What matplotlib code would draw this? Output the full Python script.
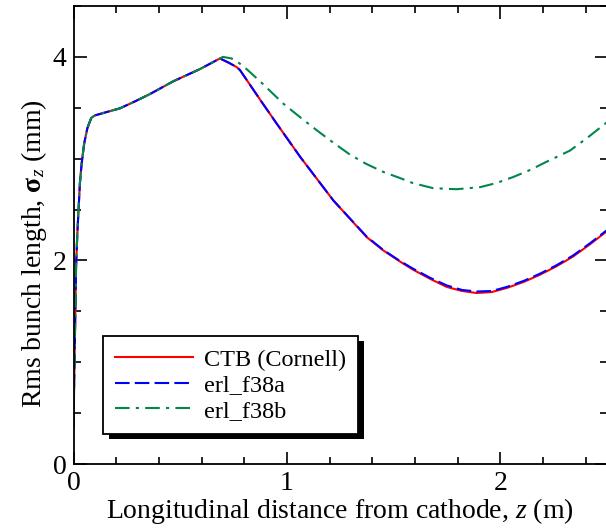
import matplotlib.pyplot as plt
from matplotlib.ticker import MultipleLocator
import matplotlib.patheffects as pe

plt.rcParams['font.family'] = ['Liberation Serif', 'DejaVu Serif']
plt.rcParams['mathtext.fontset'] = 'custom'
plt.rcParams['mathtext.rm'] = 'Liberation Serif'
plt.rcParams['mathtext.it'] = 'Liberation Serif:italic'
plt.rcParams['mathtext.bf'] = 'Liberation Serif:bold'

# z positions (m) and rms bunch length (mm)
z_ctb = [0.0, 0.003, 0.007, 0.012, 0.018, 0.03, 0.038, 0.05, 0.065, 0.083, 0.1, 0.15, 0.218,
         0.29, 0.358, 0.467, 0.592, 0.686, 0.73, 0.764, 0.78, 0.874, 0.95, 1.061, 1.217, 1.373,
         1.45, 1.529, 1.59, 1.67, 1.748, 1.82, 1.889, 1.96, 2.03, 2.11, 2.185, 2.26, 2.341,
         2.42, 2.5]
s_ctb = [0.35, 0.8, 1.28, 1.94, 2.27, 2.76, 2.95, 3.15, 3.30, 3.40, 3.425, 3.455, 3.495,
         3.565, 3.635, 3.76, 3.88, 3.985, 3.94, 3.90, 3.87, 3.58, 3.35, 3.02, 2.59, 2.23,
         2.10, 1.99, 1.91, 1.82, 1.74, 1.70, 1.68, 1.69, 1.73, 1.79, 1.86, 1.94, 2.04,
         2.16, 2.29]

z_f38a = z_ctb
s_f38a = [0.35, 0.8, 1.28, 1.94, 2.27, 2.76, 2.95, 3.15, 3.30, 3.40, 3.425, 3.455, 3.495,
          3.565, 3.635, 3.76, 3.88, 3.985, 3.94, 3.90, 3.87, 3.58, 3.35, 3.02, 2.59, 2.235,
          2.105, 1.995, 1.92, 1.83, 1.755, 1.71, 1.695, 1.70, 1.74, 1.80, 1.87, 1.95, 2.05,
          2.17, 2.30]

z_f38b = [0.0, 0.003, 0.007, 0.012, 0.018, 0.03, 0.038, 0.05, 0.065, 0.083, 0.1, 0.15, 0.218,
          0.29, 0.358, 0.467, 0.592, 0.686, 0.70, 0.74, 0.775, 0.811, 0.874, 0.983, 1.06, 1.139,
          1.215, 1.295, 1.37, 1.451, 1.529, 1.59, 1.685, 1.795, 1.904, 1.98, 2.06, 2.14,
          2.216, 2.326, 2.41, 2.5]
s_f38b = [0.35, 0.8, 1.28, 1.94, 2.27, 2.76, 2.95, 3.15, 3.30, 3.40, 3.425, 3.455, 3.495,
          3.565, 3.635, 3.76, 3.88, 3.985, 4.0, 3.985, 3.94, 3.88, 3.76, 3.54, 3.41, 3.28,
          3.16, 3.04, 2.95, 2.87, 2.81, 2.76, 2.71, 2.70, 2.72, 2.76, 2.82, 2.89,
          2.97, 3.08, 3.21, 3.36]

labels = ['CTB (Cornell)', 'erl_f38a', 'erl_f38b']

fig = plt.figure(figsize=(6.06, 5.28), dpi=100)
ax = fig.add_axes([0.1213, 0.1212, 0.8807, 0.8674])

ax.plot(z_ctb, s_ctb, color='#ff0000', lw=1.5, label=labels[0])
ax.plot(z_f38a, s_f38a, color='#0000ff', lw=1.5, dashes=(7, 2.5), label=labels[1])
ax.plot(z_f38b, s_f38b, color='#00874a', lw=1.5, dashes=(7, 3, 1.5, 3), label=labels[2])

ax.set_xlim(0, 2.5)
ax.set_ylim(0, 4.5)
ax.xaxis.set_major_locator(MultipleLocator(1))
ax.xaxis.set_minor_locator(MultipleLocator(0.2))
ax.yaxis.set_major_locator(MultipleLocator(2))
ax.yaxis.set_minor_locator(MultipleLocator(0.5))
ax.tick_params(which='both', direction='in', top=True, right=True, labelsize=20, width=1.2)
ax.tick_params(which='major', length=9)
ax.tick_params(which='minor', length=5)
ax.tick_params(axis='x', pad=5)
ax.tick_params(axis='y', pad=5)
for sp in ax.spines.values():
    sp.set_linewidth(1.3)

ax.set_xlabel(r'Longitudinal distance from cathode, $z$ (m)', fontsize=20, labelpad=0)
ax.set_ylabel(r'Rms bunch length, $\mathbf{\sigma}_z$ (mm)', fontsize=20, labelpad=3)
ax.yaxis.label.set_y(0.46)

leg = ax.legend(loc='lower left', bbox_to_anchor=(0.055, 0.0655), fontsize=17.5, fancybox=False,
                framealpha=1, edgecolor='black', handlelength=3.2, borderpad=0.5,
                labelspacing=0.15, handletextpad=0.45, borderaxespad=0)
leg.get_frame().set_linewidth(1.3)
leg.get_frame().set_path_effects([pe.SimplePatchShadow(offset=(4.5, -3.5), shadow_rgbFace='black', alpha=1),
                                  pe.Normal()])

fig.savefig('out.png', dpi=100)
